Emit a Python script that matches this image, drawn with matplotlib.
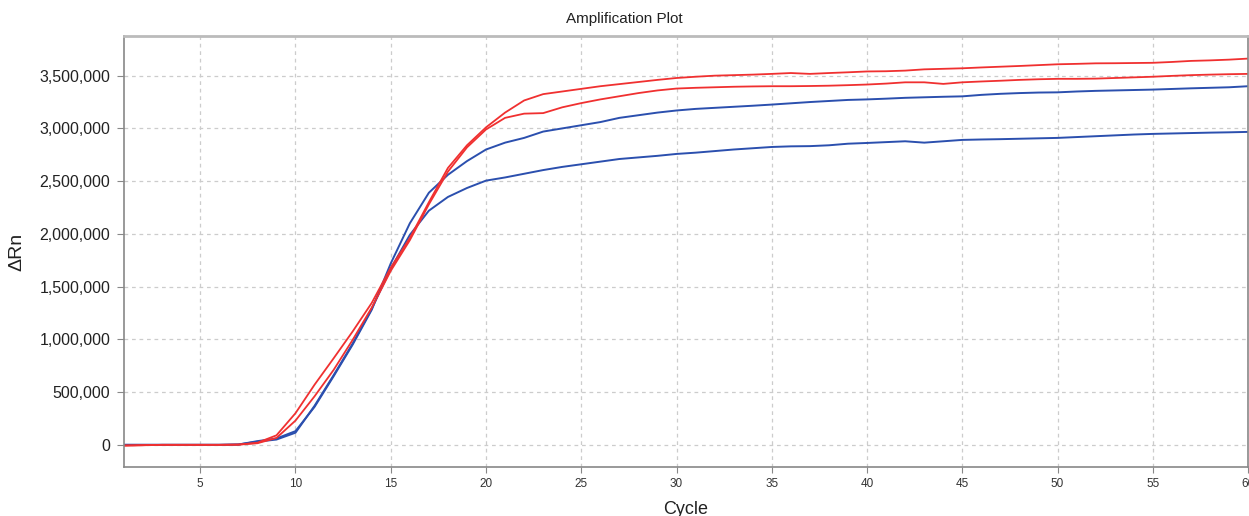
import matplotlib
matplotlib.use('Agg')
import matplotlib.pyplot as plt
from matplotlib.ticker import FuncFormatter, MultipleLocator

plt.rcParams['font.family'] = ['Liberation Sans', 'DejaVu Sans']

cycles = list(range(1, 61))

# delta Rn per cycle (two red wells, two blue wells)
red_high = [-8000, -4000, 0, 0, 0, 0, 2000, 20000, 90000, 300000,
            570000, 820000, 1075000, 1345000, 1680000, 1960000, 2300000, 2625000, 2840000, 3010000,
            3150000, 3265000, 3325000, 3350000, 3375000, 3400000, 3420000, 3440000, 3460000, 3478000,
            3490000, 3500000, 3505000, 3510000, 3517000, 3525000, 3517000, 3525000, 3532000, 3540000,
            3542000, 3548000, 3560000, 3565000, 3570000, 3578000, 3585000, 3592000, 3600000, 3608000,
            3612000, 3617000, 3618000, 3620000, 3622000, 3630000, 3640000, 3645000, 3652000, 3662000]
red_low = [-6000, -3000, 0, 0, 0, 0, 2000, 15000, 65000, 230000,
           460000, 710000, 995000, 1300000, 1650000, 1940000, 2280000, 2590000, 2820000, 2990000,
           3100000, 3140000, 3145000, 3200000, 3240000, 3275000, 3305000, 3335000, 3360000, 3378000,
           3385000, 3390000, 3395000, 3398000, 3400000, 3400000, 3402000, 3405000, 3410000, 3416000,
           3425000, 3437000, 3437000, 3422000, 3437000, 3445000, 3452000, 3460000, 3466000, 3470000,
           3470000, 3472000, 3478000, 3484000, 3490000, 3498000, 3505000, 3510000, 3514000, 3517000]
blue_high = [0, 0, 0, 0, 0, 0, 3000, 35000, 60000, 130000,
             360000, 650000, 950000, 1280000, 1720000, 2100000, 2390000, 2560000, 2690000, 2800000,
             2865000, 2910000, 2970000, 3000000, 3030000, 3060000, 3100000, 3125000, 3150000, 3170000,
             3185000, 3195000, 3205000, 3215000, 3226000, 3238000, 3250000, 3260000, 3270000, 3275000,
             3282000, 3290000, 3295000, 3300000, 3304000, 3318000, 3328000, 3335000, 3340000, 3342000,
             3350000, 3356000, 3360000, 3364000, 3368000, 3374000, 3380000, 3385000, 3390000, 3400000]
blue_low = [0, 0, 0, 0, 0, 0, 3000, 30000, 50000, 115000,
            370000, 660000, 960000, 1290000, 1670000, 1990000, 2220000, 2350000, 2435000, 2505000,
            2535000, 2570000, 2605000, 2635000, 2660000, 2685000, 2710000, 2725000, 2740000, 2758000,
            2770000, 2785000, 2800000, 2812000, 2824000, 2830000, 2832000, 2840000, 2855000, 2862000,
            2870000, 2878000, 2865000, 2878000, 2891000, 2895000, 2898000, 2902000, 2906000, 2910000,
            2918000, 2926000, 2934000, 2942000, 2948000, 2952000, 2956000, 2960000, 2963000, 2967000]

red = '#f03030'
blue = '#2b4fae'

fig = plt.figure(figsize=(12.49, 5.16), dpi=100)
ax = fig.add_axes([0.0993, 0.095, 0.9, 0.835])

ax.plot(cycles, blue_low, color=blue, lw=1.4)
ax.plot(cycles, blue_high, color=blue, lw=1.4)
ax.plot(cycles, red_low, color=red, lw=1.3)
ax.plot(cycles, red_high, color=red, lw=1.3)

ax.set_xlim(1, 60)
ax.set_ylim(-210000, 3875000)
ax.xaxis.set_major_locator(MultipleLocator(5))
ax.yaxis.set_major_locator(MultipleLocator(500000))
ax.yaxis.set_major_formatter(FuncFormatter(lambda v, p: f'{int(v):,}'))

ax.grid(True, color='#cccccc', linestyle=(0, (3, 3)), lw=0.9)
ax.set_axisbelow(True)

ax.tick_params(axis='y', labelsize=11.5, length=5, color='#888888', labelcolor='#222222', pad=5)
ax.tick_params(axis='x', labelsize=8.5, length=4, color='#888888', labelcolor='#333333', pad=4)

for side in ['left', 'bottom', 'right']:
    ax.spines[side].set_color('#888888')
    ax.spines[side].set_linewidth(1.2)
ax.spines['top'].set_color('#bbbbbb')
ax.spines['top'].set_linewidth(2)

ax.set_xlabel('Cycle', fontsize=13, color='#222222', labelpad=8)
ax.set_ylabel('ΔRn', fontsize=14, color='#222222', labelpad=10)
fig.text(0.5, 0.963, 'Amplification Plot', ha='center', va='center', fontsize=11, color='#222222')

plt.savefig('out.png', dpi=100)
plt.close()
